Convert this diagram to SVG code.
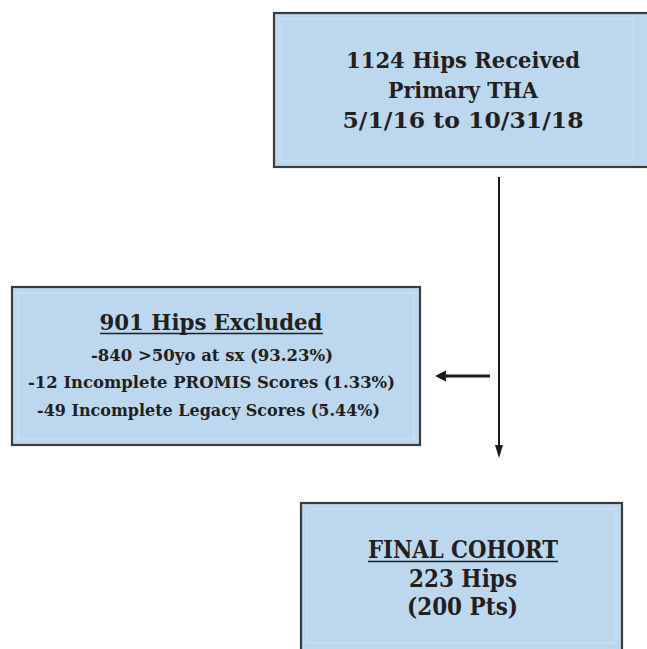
<svg xmlns="http://www.w3.org/2000/svg" width="647" height="649" viewBox="0 0 647 649">
  <defs>
    <style>
      .box { fill: #bcd7ee; stroke: #3c3c3c; stroke-width: 2.2; }
      .inner { fill: none; stroke: #cde1f2; stroke-width: 1.2; }
      text { font-family: "DejaVu Serif", "Liberation Serif", serif; font-weight: bold; fill: #231f20; text-anchor: middle; }
      .top { font-size: 21.5px; }
      .head { font-size: 22.5px; }
      .small { font-size: 17px; }
      .fin { font-size: 23.5px; }
      .conn { stroke: #1a1a1a; fill: none; }
    </style>
  </defs>
  <rect width="647" height="649" fill="#ffffff"/>

  <g id="node-received">
    <rect class="box" x="274" y="13" width="380" height="154"/>
    <rect class="inner" x="280" y="19" width="353" height="142"/>
    <text class="top" x="463" y="68" textLength="234" lengthAdjust="spacingAndGlyphs">1124 Hips Received</text>
    <text class="top" x="463" y="98" textLength="150" lengthAdjust="spacingAndGlyphs">Primary THA</text>
    <text class="top" x="463" y="128" textLength="241" lengthAdjust="spacingAndGlyphs">5/1/16 to 10/31/18</text>
  </g>

  <g id="node-excluded">
    <rect class="box" x="12" y="287" width="408" height="158"/>
    <rect class="inner" x="18" y="293" width="396" height="146"/>
    <text class="head" x="211" y="330" textLength="223" lengthAdjust="spacingAndGlyphs">901 Hips Excluded</text>
    <line x1="100" y1="333.5" x2="323" y2="333.5" stroke="#231f20" stroke-width="1.5"/>
    <text class="small" x="212" y="361" textLength="242" lengthAdjust="spacingAndGlyphs">-840 &gt;50yo at sx (93.23%)</text>
    <text class="small" x="211.5" y="388" textLength="367" lengthAdjust="spacingAndGlyphs">-12 Incomplete PROMIS Scores (1.33%)</text>
    <text class="small" x="208.5" y="416" textLength="343" lengthAdjust="spacingAndGlyphs">-49 Incomplete Legacy Scores (5.44%)</text>
  </g>

  <g id="node-final">
    <rect class="box" x="301" y="503" width="321" height="160"/>
    <rect class="inner" x="307" y="509" width="309" height="134"/>
    <text class="fin" x="463" y="558" textLength="190" lengthAdjust="spacingAndGlyphs">FINAL COHORT</text>
    <line x1="368" y1="561.5" x2="558" y2="561.5" stroke="#231f20" stroke-width="1.5"/>
    <text class="fin" x="463" y="587" textLength="108" lengthAdjust="spacingAndGlyphs">223 Hips</text>
    <text class="fin" x="462.5" y="615" textLength="111" lengthAdjust="spacingAndGlyphs">(200 Pts)</text>
  </g>

  <g id="connectors">
    <line class="conn" x1="499" y1="177" x2="499" y2="446" stroke-width="2"/>
    <polygon points="495,445 503,445 499,458" fill="#1a1a1a"/>
    <line class="conn" x1="490" y1="376" x2="444" y2="376" stroke-width="3.2"/>
    <polygon points="446,370.5 446,381.5 435,376" fill="#1a1a1a"/>
  </g>
</svg>
